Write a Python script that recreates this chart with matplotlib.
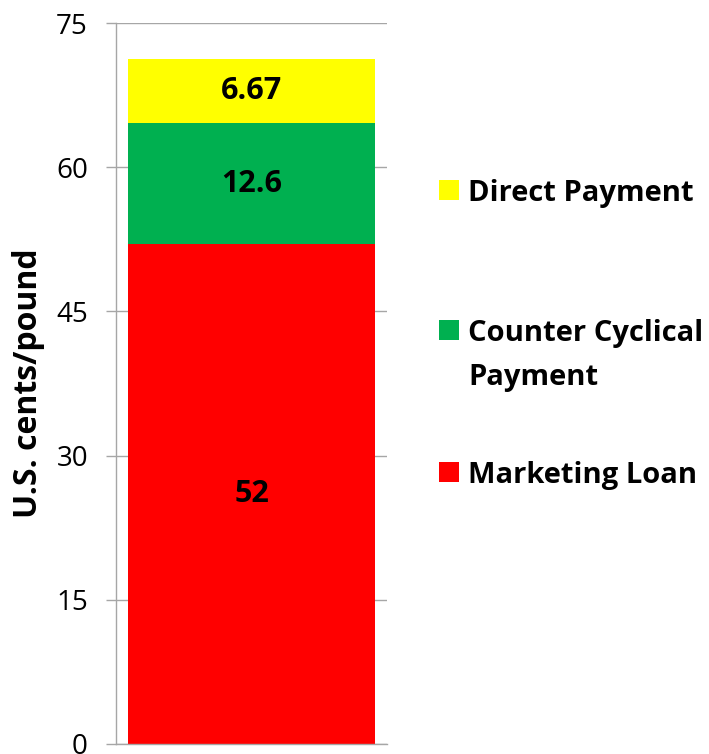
import matplotlib
matplotlib.use("Agg")
import matplotlib.pyplot as plt
from matplotlib.patches import Patch

plt.rcParams['font.family'] = ['Open Sans', 'DejaVu Sans']

# Data
categories = [""]
series_names = ["Marketing Loan", "Counter Cyclical Payment", "Direct Payment"]
series_values = [[52], [12.6], [6.67]]
series_labels = ["52", "12.6", "6.67"]
colors = ["#FF0000", "#00B050", "#FFFF00"]
y_ticks = [0, 15, 30, 45, 60, 75]

W, H = 709, 754
fig = plt.figure(figsize=(W / 100, H / 100), dpi=100)
ax = fig.add_axes([116 / W, (H - 744) / H, (387 - 116) / W, (744 - 23) / H])

bottom = 0
containers = []
for vals, col, lab in zip(series_values, colors, series_labels):
    bc = ax.bar([0.5], vals, width=0.915, bottom=[bottom], color=col, edgecolor='none', zorder=3)
    containers.append(bc)
    ax.bar_label(bc, labels=[lab], label_type='center', fontsize=22, fontweight='bold', color='black', zorder=4)
    bottom += vals[0]

ax.set_xlim(0, 1)
ax.set_ylim(0, 75)
ax.set_yticks(y_ticks)
ax.set_yticklabels([str(t) for t in y_ticks], fontsize=20)
ax.set_xticks([])
ax.yaxis.grid(True, color='#A6A6A6', linewidth=1.0, zorder=0)
ax.set_axisbelow(True)
ax.tick_params(axis='y', direction='out', length=7.2, width=1.0, color='#A6A6A6', pad=13)

for s in ['top', 'right']:
    ax.spines[s].set_visible(False)
for s in ['left', 'bottom']:
    ax.spines[s].set_color('#A6A6A6')
    ax.spines[s].set_linewidth(1.0)
ax.spines['bottom'].set_zorder(5)

ax.set_ylabel("U.S. cents/pound", fontsize=23, fontweight='bold', va='center')
ax.yaxis.set_label_coords((29 - 116) / (387 - 116), (744 - 383.5) / (744 - 23))

# Legend (manual placement of entries)
legend_entries = [
    ("Direct Payment", colors[2], 193),
    ("Counter Cyclical", colors[1], 333),
    ("Marketing Loan", colors[0], 475),
]
for text, col, ypix in legend_entries:
    leg = fig.legend(handles=[Patch(facecolor=col, edgecolor='none')], labels=[text],
                     loc='center left', bbox_to_anchor=(439 / W, (H - ypix) / H),
                     frameon=False, borderpad=0, borderaxespad=0,
                     handlelength=0.686, handleheight=0.686, handletextpad=0.31,
                     prop={'size': 21, 'weight': 'bold'})
fig.text(468 / W, (H - 378) / H, "Payment", fontsize=21, fontweight='bold', ha='left', va='center')

fig.savefig("out.png", dpi=100)
